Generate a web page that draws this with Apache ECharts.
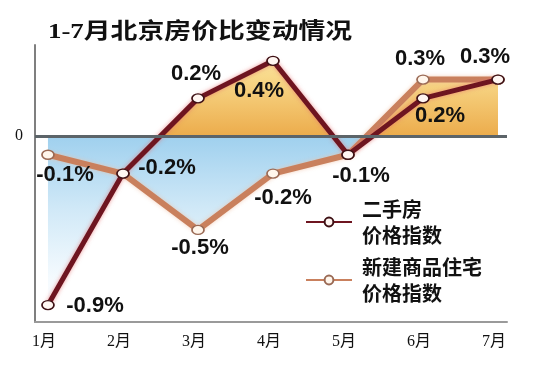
<!DOCTYPE html>
<html>
<head>
<meta charset="utf-8">
<script src="https://cdn.jsdelivr.net/npm/echarts@6/dist/echarts.min.js"></script>
<style>
html,body{margin:0;padding:0;background:#fff;}
#c{width:541px;height:368px;}
</style>
</head>
<body>
<div id="c"></div>
<script>
// ---- data ----
const titleText = '1-7月北京房价比变动情况';
const months = ['1月', '2月', '3月', '4月', '5月', '6月', '7月'];
const resaleName = '二手房\n价格指数';
const newHomeName = '新建商品住宅\n价格指数';
const resale = [-0.9, -0.2, 0.2, 0.4, -0.1, 0.2, 0.3];
const newHome = [-0.1, -0.2, -0.5, -0.2, -0.1, 0.3, 0.3];
const yTickLabels = [0];

// ---- label placement (style only) ----
const resaleLabelOffsets = [[47, 1], [44, -6], [-2, -24], [-14, 30], [13, 21], [17, 18], [-13, -23]];
const newHomeLabelOffsets = [[17, 20], null, [2, 18], [10, 24], null, [-3, -21], null];

const labelFont = {fontFamily: '"Liberation Sans", Arial, sans-serif', fontWeight: 'bold', fontSize: 22, color: '#111'};

function lineData(vals, offsets) {
  return vals.map((v, i) => {
    const o = offsets[i];
    return {
      value: [i + 1, v],
      label: o ? Object.assign({show: true, position: 'inside', offset: o, formatter: v + '%'}, labelFont) : {show: false}
    };
  });
}
const upper = resale.map((v, i) => [i + 1, Math.max(v, newHome[i])]);
const lower = resale.map((v, i) => [i + 1, Math.min(v, newHome[i])]);

const yMin = -0.99, yMax = 0.484;

const chart = echarts.init(document.getElementById('c'), null, {renderer: 'canvas'});
const option = {
  animation: false,
  backgroundColor: '#ffffff',
  grid: {left: 35, right: 34, top: 45, bottom: 46},
  graphic: [{
    type: 'text', x: 48, y: 21, scaleX: 1.22,
    style: {text: titleText, font: 'bold 22px "Liberation Serif", "Noto Sans CJK SC"', fill: '#111', textVerticalAlign: 'top'}
  }],
  legend: {
    data: [resaleName, newHomeName],
    orient: 'vertical', left: 305, top: 196, itemGap: 6, padding: 0,
    itemWidth: 46, itemHeight: 11,
    textStyle: {fontFamily: '"Noto Sans CJK SC"', fontWeight: 'bold', fontSize: 20, lineHeight: 26, color: '#111', padding: [0, 0, 0, 5]}
  },
  xAxis: {
    type: 'value', min: 0.827, max: 7.12,
    axisLine: {show: true, onZero: false, lineStyle: {color: '#9a9a9a', width: 2}},
    axisTick: {show: false},
    splitLine: {show: false},
    axisLabel: {
      customValues: months.map((m, i) => i + 1),
      formatter: v => months[Math.round(v) - 1] || '',
      fontFamily: '"Liberation Serif", "Noto Sans CJK SC"', fontSize: 16, color: '#111', margin: 12,
      padding: [0, 8, 0, 0]
    }
  },
  yAxis: {
    type: 'value', min: yMin, max: yMax,
    axisLine: {show: true, lineStyle: {color: '#7f7f7f', width: 2}},
    axisTick: {show: false},
    splitLine: {show: false},
    axisLabel: {customValues: yTickLabels, formatter: v => String(v), fontFamily: '"Liberation Serif"', fontSize: 16, color: '#111', margin: 12}
  },
  series: [
    {id: 'upperFill', type: 'line', data: upper, showSymbol: false, silent: true, z: 1,
     lineStyle: {width: 0, opacity: 0}, areaStyle: {color: '#eeb04e', opacity: 1}},
    {id: 'lowerFill', type: 'line', data: lower, showSymbol: false, silent: true, z: 1,
     lineStyle: {width: 0, opacity: 0}, areaStyle: {color: '#a3d3ef', opacity: 1}},
    {id: 'zero', type: 'line', data: [], z: 2, silent: true,
     markLine: {silent: true, symbol: 'none', label: {show: false},
       lineStyle: {color: '#5c6469', width: 3, type: 'solid'}, data: [{yAxis: 0}]}},
    {name: newHomeName, type: 'line', z: 3, data: lineData(newHome, newHomeLabelOffsets),
     symbol: 'circle', symbolSize: [12, 9], showAllSymbol: true,
     lineStyle: {color: '#c9805d', width: 6, shadowColor: 'rgba(240,190,160,0.7)', shadowBlur: 4},
     itemStyle: {color: '#fff6ec', borderColor: '#9a6a55', borderWidth: 1.5}},
    {name: resaleName, type: 'line', z: 4, data: lineData(resale, resaleLabelOffsets),
     symbol: 'circle', symbolSize: [12, 9], showAllSymbol: true,
     lineStyle: {color: '#6e1520', width: 5, shadowColor: 'rgba(230,110,110,0.7)', shadowBlur: 4},
     itemStyle: {color: '#fff6f2', borderColor: '#3d1014', borderWidth: 1.5}}
  ]
};
chart.setOption(option);

const pTop = chart.convertToPixel({yAxisIndex: 0}, yMax);
const pZero = chart.convertToPixel({yAxisIndex: 0}, 0);
const pBot = chart.convertToPixel({yAxisIndex: 0}, yMin);
const pBlueFade = chart.convertToPixel({yAxisIndex: 0}, -0.75);
const span = pBot - pTop;
const zf = (pZero - pTop) / span;
const ff = (pBlueFade - pTop) / span;
const grad = new echarts.graphic.LinearGradient(0, pTop, 0, pBot, [
  {offset: 0, color: '#fae7a8'},
  {offset: zf * 0.35, color: '#f8d98a'},
  {offset: zf - 0.0005, color: '#ecac4c'},
  {offset: zf + 0.0005, color: '#9fd0ee'},
  {offset: zf + (ff - zf) * 0.5, color: '#cfe8f7'},
  {offset: ff, color: '#f4fafe'},
  {offset: 1, color: '#ffffff'}
], true);
chart.setOption({series: [{id: 'upperFill', areaStyle: {color: grad}}, {id: 'lowerFill', areaStyle: {color: grad}}]});
</script>
</body>
</html>
